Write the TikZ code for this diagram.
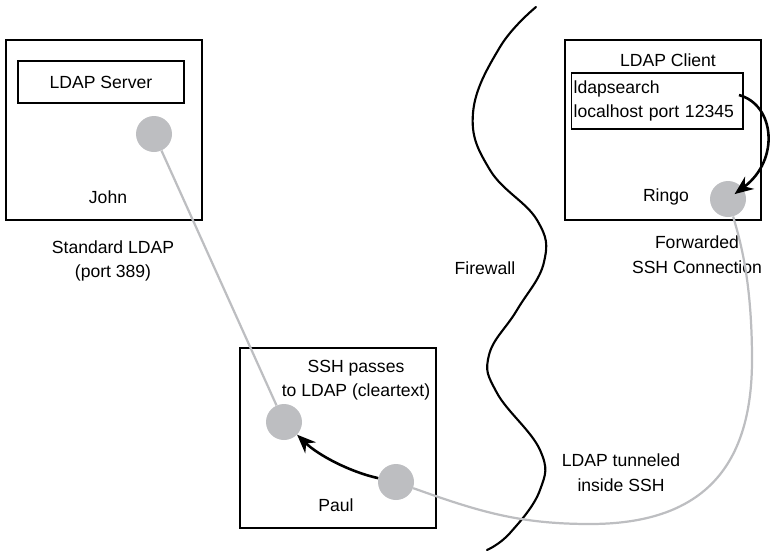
\documentclass[tikz,border=0pt]{standalone}
\usepackage{fontspec}
\setmainfont{Liberation Sans}
\usetikzlibrary{arrows.meta}
\definecolor{dotgray}{RGB}{189,190,193}
\tikzstyle{host}  = [rectangle, draw=black, line width=1.4pt, minimum width=5.88cm, minimum height=5.4cm]
\tikzstyle{inbox} = [rectangle, draw=black, line width=1.4pt]
\tikzstyle{dot}   = [circle, fill=dotgray, minimum size=1.08cm, inner sep=0pt]
\tikzstyle{txt}   = [align=center]
\tikzstyle{link}  = [draw=dotgray, line width=1.9pt]
\tikzstyle{arrow} = [line width=2.2pt, -{Stealth[length=16pt,width=13pt]}]
\tikzstyle{wall}  = [line width=1.8pt, line cap=round]

\begin{document}
\begin{tikzpicture}[x=0.03cm, y=-0.03cm, font=\fontsize{15}{21}\selectfont]
      \useasboundingbox (0,0) rectangle (770,552);

      % the three hosts
      \node (johnbox)  [host] at (104,130) {};
      \node (ringobox) [host] at (663,130) {};
      \node (paulbox)  [host] at (338,438) {};

      \node (server) [inbox, minimum width=4.98cm, minimum height=1.26cm] at (101,82) {LDAP Server};
      \node (client) [txt] at (668,60) {LDAP Client};
      \node (query)  [inbox, text width=5cm, minimum height=1.68cm, align=left, inner sep=2pt] at (657,101) {ldapsearch\\localhost port 12345};

      \node (john)  [txt] at (108,197) {John};
      \node (ringo) [txt] at (666,197) {Ringo};
      \node (paul)  [txt] at (336,505) {Paul};
      \node (pass)  [txt] at (356,380) {SSH passes\\to LDAP (cleartext)};

      % labels outside
      \node (std)  [txt] at (113,261) {Standard LDAP\\(port 389)};
      \node (fwd)  [txt] at (697,255) {Forwarded\\SSH Connection};
      \node (fw)   [txt] at (485,268) {Firewall};
      \node (tun)  [txt] at (621,473) {LDAP tunneled\\inside SSH};

      % firewall
      \draw [wall] plot [smooth, tension=0.7] coordinates {(536,7) (500,47) (473,113) (490,170) (537,220) (544,262) (517,310) (489,355) (497,393) (540,450) (540,490) (510,533) (487,550)};

      % ports
      \node (johnport)  [dot] at (154,134) {};
      \node (ringoport) [dot] at (728,199) {};
      \node (paulin)    [dot] at (284,422) {};
      \node (paulout)   [dot] at (396,482) {};

      \coordinate (low)  at (590,524);
      \coordinate (side) at (752,360);
      \coordinate (qout) at (739,95);

      \draw [link] (johnport) -- (paulin);
      \draw [link] (paulout) .. controls (480,512) and (520,524) .. (low)
                   .. controls (700,524) and (752,470) .. (side)
                   .. controls (752,280) and (740,240) .. (ringoport);

      \draw [arrow] (paulout) .. controls (350,472) and (318,455) .. (paulin);
      \draw [arrow, shorten >=7pt] (qout) .. controls (775,105) and (780,160) .. (ringoport.center);

    \end{tikzpicture}
\end{document}
